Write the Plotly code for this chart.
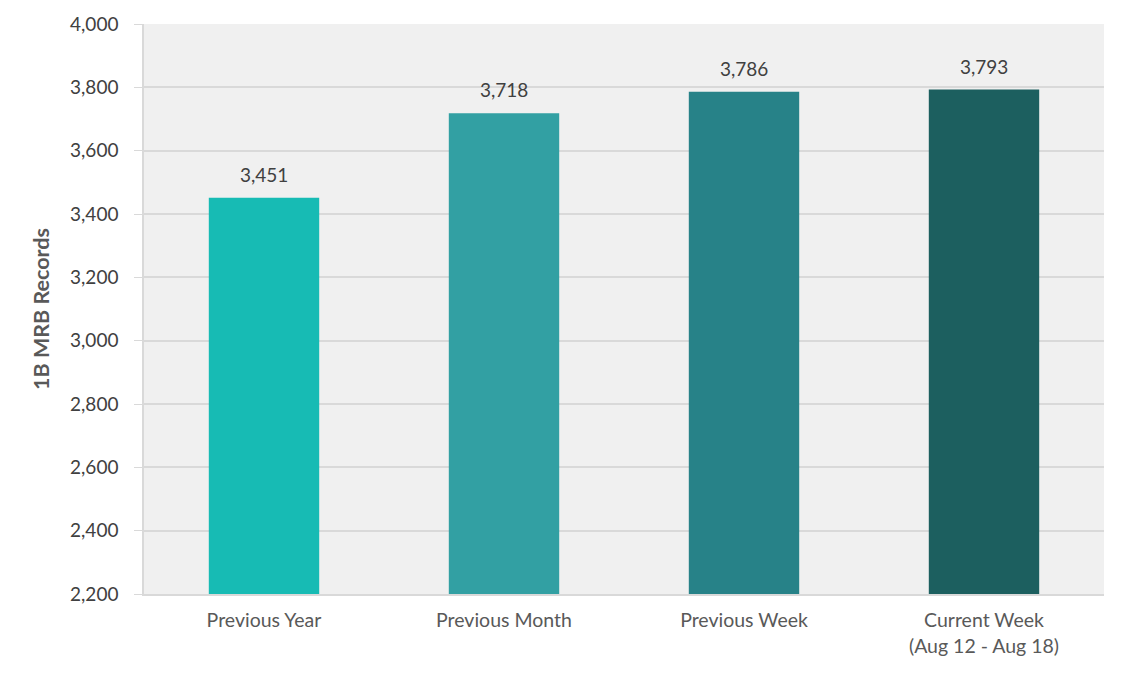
import plotly.graph_objects as go

categories = ["Previous Year", "Previous Month", "Previous Week", "Current Week<br>(Aug 12 - Aug 18)"]
values = [3451, 3718, 3786, 3793]
colors = ["#17BBB4", "#32A0A3", "#278288", "#1C5F5F"]
y_ticks = list(range(2200, 4001, 200))

fig = go.Figure(go.Bar(
    x=categories, y=values,
    marker=dict(color=colors, line=dict(width=0)),
    hoverinfo="x+y",
))

for c, v in zip(categories, values):
    fig.add_annotation(
        x=c, y=v, text=f"{v:,}", showarrow=False,
        yanchor="bottom", yshift=10,
        font=dict(size=19, color="#404040", family="Lato"),
    )

fig.update_layout(
    width=1127, height=677,
    margin=dict(l=144, r=23, t=24, b=83),
    paper_bgcolor="white",
    plot_bgcolor="#F0F0F0",
    bargap=0.54,
    font=dict(family="Lato", color="#404040"),
    showlegend=False,
)
fig.update_yaxes(
    range=[2200, 4000],
    tickvals=y_ticks,
    tickformat=",",
    tickfont=dict(size=19, color="#404040"),
    gridcolor="#D9D9D9", gridwidth=1.5,
    showline=True, linecolor="#D9D9D9", linewidth=1.5,
    ticks="outside", ticklen=8, tickcolor="#D9D9D9",
    ticklabelstandoff=12,
    title=dict(text="<b>1B MRB Records</b>", font=dict(size=21.5, color="#595959"), standoff=15),
    zeroline=False,
)
fig.update_xaxes(
    tickfont=dict(size=19.5, color="#595959"),
    showline=True, linecolor="#D9D9D9", linewidth=2,
    ticks="", ticklabelstandoff=8,
)

fig.write_html("out.html")
